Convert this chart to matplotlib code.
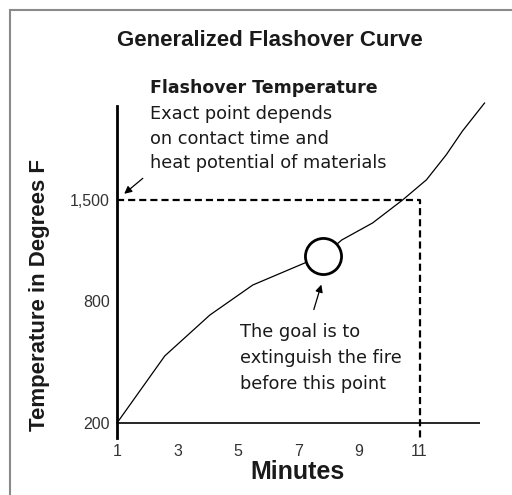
import numpy as np
import matplotlib.pyplot as plt
from matplotlib.patches import Rectangle

# curve: minutes vs temperature (degrees F)
minutes = [1.0, 2.58, 4.07, 5.49, 7.20, 7.82, 8.43, 9.45, 10.44, 11.23, 11.89, 12.42, 13.15]
temps = [200, 530, 731, 911, 1063, 1113, 1223, 1341, 1500, 1640, 1815, 1978, 2172]

x_ticks = [1, 3, 5, 7, 9, 11]
y_ticks = [200, 800, 1500]
y_tick_labels = ["200", "800", "1,500"]

flashover_temp = 1500
flashover_min = 11
goal_min, goal_temp = 7.82, 1113

# the drawing is not to scale: piecewise-linear temperature axis
T_KNOTS = [-2000, 200, 800, 1500, 5000]
P_KNOTS = [-447, 0, 122, 223, 728]


def fwd(t):
    return np.interp(t, T_KNOTS, P_KNOTS)


def inv(p):
    return np.interp(p, P_KNOTS, T_KNOTS)


plt.rcParams['font.family'] = ['Liberation Sans', 'DejaVu Sans']

fig = plt.figure(figsize=(5.12, 4.95), dpi=100)
ax = fig.add_axes([117 / 512, 57 / 495, 363 / 512, 340 / 495])
ax.set_yscale('function', functions=(fwd, inv))
ax.set_xlim(1, 13)
ax.set_ylim(inv(-15), inv(325))

for s in ['top', 'right', 'bottom']:
    ax.spines[s].set_visible(False)
ax.spines['left'].set_linewidth(2.0)
ax.spines['left'].set_bounds(inv(-15), inv(317))

ax.axhline(200, color='black', lw=1.2, zorder=2)

ax.plot(minutes, temps, color='black', lw=0.9, clip_on=False, zorder=3)

# flashover level, dashed
ax.plot([1, flashover_min, flashover_min],
        [flashover_temp, flashover_temp, inv(-15)],
        color='black', lw=1.6, dashes=(3.2, 1.8), zorder=2, clip_on=False)

ax.plot(goal_min, goal_temp, 'o', ms=26, mfc='white', mec='black', mew=2,
        zorder=4, clip_on=False)

ax.set_xticks(x_ticks)
ax.set_xticklabels([str(v) for v in x_ticks])
ax.set_yticks(y_ticks)
ax.set_yticklabels(y_tick_labels)
ax.minorticks_off()
ax.tick_params(axis='both', length=0, labelsize=11.5, colors='#333333')
ax.tick_params(axis='x', pad=4)
ax.tick_params(axis='y', pad=5)

# annotation texts (wide-set face, like the original)
txt = dict(transform=ax.transAxes, fontsize=12.8, color='#1a1a1a', va='center',
           ha='left', family='DejaVu Sans')
ax.text(0.091, 1.029, "Flashover Temperature", fontweight='bold',
        **{**txt, 'fontsize': 12.5})
ax.text(0.091, 0.953, "Exact point depends", **txt)
ax.text(0.091, 0.879, "on contact time and", **txt)
ax.text(0.091, 0.808, "heat potential of materials", **txt)

ax.text(0.339, 0.311, "The goal is to", **txt)
ax.text(0.339, 0.234, "extinguish the fire", **txt)
ax.text(0.339, 0.160, "before this point", **txt)

arrow = dict(arrowstyle='-|>', color='black', lw=0.9, mutation_scale=11)
ax.annotate("", xy=(0.014, 0.713), xytext=(0.077, 0.769),
            xycoords='axes fraction', textcoords='axes fraction', arrowprops=arrow)
ax.annotate("", xy=(0.565, 0.459), xytext=(0.540, 0.370),
            xycoords='axes fraction', textcoords='axes fraction', arrowprops=arrow)

fig.text(270 / 512, 1 - 40 / 495, "Generalized Flashover Curve",
         fontsize=16, fontweight='bold', ha='center', va='center', color='#1a1a1a')
fig.text(40 / 512, 1 - 295 / 495, "Temperature in Degrees F", rotation=90,
         fontsize=16, fontweight='bold', ha='center', va='center', color='#1a1a1a')
fig.text(298 / 512, 1 - 472 / 495, "Minutes",
         fontsize=18, fontweight='bold', ha='center', va='center', color='#1a1a1a')

fig.patches.append(Rectangle((10 / 512, -0.05), 1.1, 1 - 10 / 495 + 0.05,
                             transform=fig.transFigure, fill=False,
                             edgecolor='#8a8a8a', lw=1.5))

fig.savefig('out.png', dpi=100)
